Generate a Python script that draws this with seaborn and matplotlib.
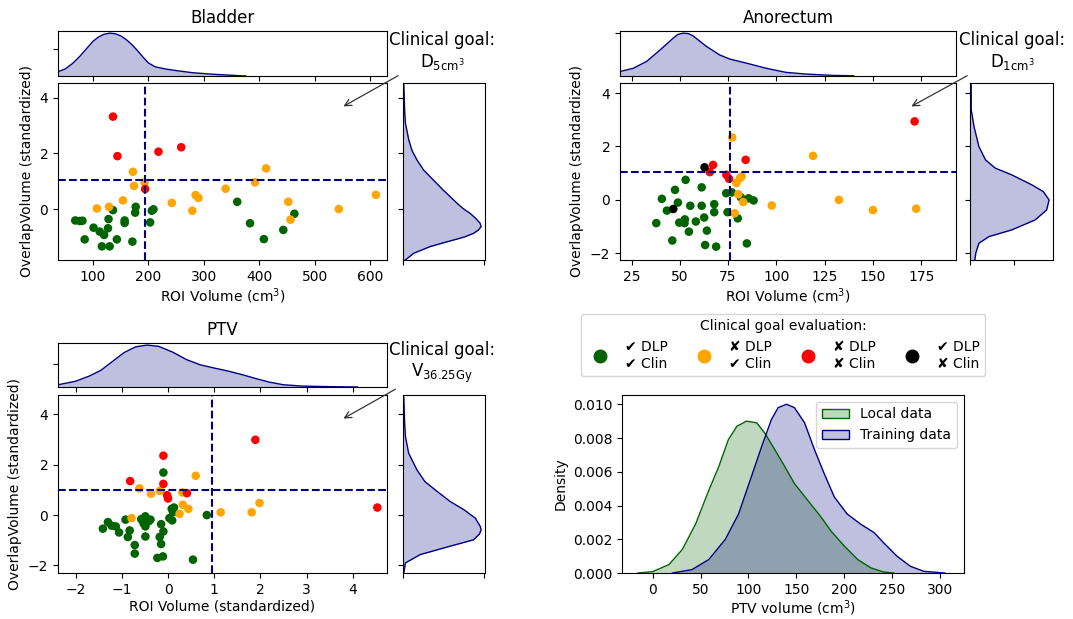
import numpy as np
import pandas as pd
import seaborn as sns
import matplotlib.pyplot as plt
from matplotlib.lines import Line2D
from matplotlib.patches import Patch

# clinical goal evaluation classes (DLP plan / clinical plan)
eval_names = ['pass', 'dlp_fail', 'both_fail', 'clin_fail']
eval_colors = ['darkgreen', 'orange', 'red', 'black']
eval_labels = ['\u2714 DLP\n\u2714 Clin', '\u2718 DLP\n\u2714 Clin',
               '\u2718 DLP\n\u2718 Clin', '\u2714 DLP\n\u2718 Clin']

# ---- Bladder ----
bladder_roi = [136, 68, 76, 81, 101, 112, 120, 127, 128, 85, 116, 130, 143, 157, 157, 171,
               176, 177, 203, 206, 209, 360, 383, 408, 443, 463,
               172, 174, 193, 154, 107, 129, 242, 279, 285, 290, 339, 392, 412, 452, 456, 543, 610,
               136, 144, 218, 259, 194]
bladder_overlap = [-0.04, -0.41, -0.43, -0.42, -0.67, -0.81, -0.93, -0.69, -0.36, -1.09, -1.34, -1.34,
                   -1.09, -0.41, -0.50, -1.17, -0.13, 0.08, -0.48, -0.06, -0.01, 0.26, -0.51, -1.08,
                   -0.75, -0.17,
                   1.34, 0.83, 0.95, 0.31, 0.02, 0.08, 0.22, -0.06, 0.50, 0.40, 0.73, 0.96, 1.46, 0.26,
                   -0.38, 0.0, 0.51,
                   3.32, 1.90, 2.06, 2.22, 0.72]
bladder_eval = ['pass'] * 26 + ['dlp_fail'] * 17 + ['both_fail'] * 5
bladder_cut = (193, 1.04)
bladder_xticks = [100, 200, 300, 400, 500, 600]
# training data marginal densities
bladder_kde_x = [37, 50, 63, 76, 88, 100, 110, 120, 130, 140, 150, 160, 170, 180, 190, 200, 212,
                 230, 250, 280, 320, 376]
bladder_kde_xd = [0.0008, 0.0013, 0.0023, 0.0036, 0.0050, 0.0064, 0.0072, 0.0077, 0.0079, 0.0078,
                  0.0074, 0.0067, 0.0058, 0.0047, 0.0035, 0.0024, 0.0017, 0.0013, 0.0010, 0.0006,
                  0.0003, 0.0]
bladder_kde_y = [4.46, 3.56, 3.08, 2.48, 2.1, 1.76, 1.40, 1.04, 0.68, 0.40, 0.20, 0.0, -0.16, -0.35,
                 -0.51, -0.63, -0.75, -0.87, -1.0, -1.11, -1.23, -1.35, -1.59, -1.83]
bladder_kde_yd = [0.005, 0.010, 0.015, 0.036, 0.056, 0.087, 0.128, 0.189, 0.250, 0.301, 0.337, 0.377,
                  0.418, 0.454, 0.479, 0.485, 0.469, 0.439, 0.383, 0.316, 0.240, 0.168, 0.066, 0.015]

# ---- Anorectum ----
anorectum_roi = [53, 47.5, 61.3, 40.7, 49, 43.3, 55.4, 61.3, 67.8, 67.8, 62.6, 58.3, 52.6, 49.7, 52.4,
                 37.8, 54.7, 64, 46.1, 63.1, 68.8, 84.7, 74.7, 80, 74, 76.9, 81.6, 85.6, 88.2,
                 77.1, 119, 81, 79.3, 82, 80.3, 82.8, 97.6, 132.4, 150, 172.4, 78.4,
                 171.6, 84.1, 67.2, 65.5, 74.1, 75.5,
                 62.8, 46.6]
anorectum_overlap = [0.75, 0.375, 0.47, 0.04, -0.1, -0.4, -0.22, -0.22, -0.16, -0.46, -0.66, -0.81,
                     -0.73, -0.85, -0.87, -0.87, -1.19, -1.15, -1.52, -1.69, -1.75, -1.63, -0.46,
                     -0.69, 0.25, 0.28, 0.1, 0.06, -0.02,
                     2.34, 1.65, 0.81, 0.63, 0.88, 0.21, -0.08, -0.21, 0.0, -0.38, -0.33, -0.5,
                     2.94, 1.50, 1.31, 1.04, 0.94, 0.79,
                     1.22, -0.34]
anorectum_eval = ['pass'] * 29 + ['dlp_fail'] * 12 + ['both_fail'] * 6 + ['clin_fail'] * 2
anorectum_cut = (75.9, 1.04)
anorectum_xticks = [25, 50, 75, 100, 125, 150, 175]
anorectum_kde_x = [19, 25.9, 32.8, 39.7, 46.6, 49, 51.7, 54.5, 56.9, 63.8, 70.7, 75.9, 84.5, 94.8,
                   105, 115.5, 129, 140]
anorectum_kde_xd = [0.0021, 0.0036, 0.0068, 0.0121, 0.0177, 0.0194, 0.0200, 0.0198, 0.0187, 0.0138,
                    0.0098, 0.0079, 0.0060, 0.0036, 0.0017, 0.0009, 0.0003, 0.0001]
anorectum_kde_y = [4.31, 3.38, 2.75, 2.0, 1.5, 1.19, 0.94, 0.56, 0.31, 0.0, -0.375, -0.75, -1.125,
                   -1.375, -1.625, -2.0, -2.25]
anorectum_kde_yd = [0.007, 0.007, 0.023, 0.051, 0.089, 0.145, 0.239, 0.356, 0.421, 0.454, 0.440,
                    0.374, 0.239, 0.108, 0.051, 0.033, 0.028]

# ---- PTV ----
ptv_roi = [-0.10, 0.84, 0.08, 0.11, 0.03, 0.09, -1.41, -1.30, -1.13, -1.06, -0.92, -0.83, -0.87,
           -0.72, -0.72, -0.49, -0.53, -0.38, -0.49, -0.15, -0.10, -0.18, -0.15, -0.23, -0.11, 0.54,
           -0.49, -0.58, -1.22, 0.13, -0.42,
           0.60, -0.62, -0.37, -0.18, 0.31, 0.32, 0.44, 0.25, -0.79, 1.14, 1.81, 1.98,
           1.89, -0.10, -0.82, -0.10, -0.02, 0.0, 0.41, 4.53]
ptv_overlap = [1.69, 0.0, 0.25, 0.12, -0.12, -0.21, -0.54, -0.28, -0.45, -0.69, -0.18, -0.61, -0.87,
               -1.19, -1.53, -0.05, -0.33, -0.18, -0.85, -0.36, -0.65, -0.87, -1.15, -1.70, -1.64,
               -1.77, -0.45, -0.16, -0.42, 0.3, -0.25,
               1.56, 1.06, 0.85, 0.96, 0.90, 0.41, 0.25, 0.05, -0.12, 0.11, 0.11, 0.48,
               2.99, 2.36, 1.35, 1.24, 0.79, 0.66, 0.87, 0.30]
ptv_eval = ['pass'] * 31 + ['dlp_fail'] * 12 + ['both_fail'] * 8
ptv_cut = (0.96, 1.0)
ptv_xticks = [-2, -1, 0, 1, 2, 3, 4]
ptv_kde_x = [-2.38, -2.0, -1.7, -1.45, -1.2, -0.95, -0.7, -0.45, -0.2, 0.1, 0.4, 0.7, 1.0, 1.3, 1.6,
             1.9, 2.2, 2.5, 2.9, 3.5, 4.1]
ptv_kde_xd = [0.019, 0.049, 0.094, 0.143, 0.219, 0.294, 0.343, 0.358, 0.347, 0.298, 0.234, 0.189,
              0.162, 0.136, 0.106, 0.072, 0.041, 0.019, 0.008, 0.003, 0.0]
ptv_kde_y = [4.68, 3.65, 3.12, 2.46, 1.80, 1.33, 0.94, 0.54, 0.21, -0.12, -0.45, -0.58, -0.75, -0.98,
             -1.27, -1.57, -1.90, -2.30]
ptv_kde_yd = [0.005, 0.010, 0.015, 0.035, 0.086, 0.136, 0.212, 0.293, 0.379, 0.449, 0.480, 0.485,
              0.475, 0.439, 0.273, 0.106, 0.015, 0.005]

# ---- PTV volume: local vs training ----
local_x = [-15.5, 0, 17, 31, 44.8, 58.6, 69, 79, 88, 98, 108.6, 117, 127.6, 138, 148, 162, 176, 186,
           200, 214, 228, 241, 252]
local_d = [0, 0.00008, 0.0005, 0.0014, 0.0029, 0.0049, 0.0063, 0.0079, 0.0087, 0.0090, 0.0089,
           0.0083, 0.0073, 0.0063, 0.0053, 0.0043, 0.0033, 0.0025, 0.0016, 0.0008, 0.0003, 0.00006, 0]
train_x = [20.7, 41, 58.6, 75.9, 89.7, 103, 113.8, 124, 131, 139.7, 148, 158.6, 169, 179, 189.7, 203,
           217, 231, 241, 255, 269, 283, 305]
train_d = [0, 0.0002, 0.0008, 0.002, 0.0035, 0.0057, 0.0075, 0.0091, 0.0098, 0.0100, 0.0098, 0.0089,
           0.0073, 0.0059, 0.0045, 0.0035, 0.0029, 0.0024, 0.0018, 0.0010, 0.0004, 0.0001, 0]

palette = dict(zip(eval_names, eval_colors))


def joint_panel(fig, main_rect, top_rect, right_rect, roi, overlap, evals, cut, xticks,
                kx, kxd, ky, kyd, xlim, ylim, xtick_top, xtick_right, title, goal, xlabel):
    ax = fig.add_axes(main_rect)
    ax_top = fig.add_axes(top_rect, sharex=ax)
    ax_right = fig.add_axes(right_rect, sharey=ax)

    df = pd.DataFrame({'roi': roi, 'overlap': overlap, 'eval': evals})
    sns.scatterplot(data=df, x='roi', y='overlap', hue='eval', palette=palette, s=38,
                    linewidth=0, legend=False, ax=ax)
    ax.axvline(cut[0], color='navy', ls='--', lw=1.5)
    ax.axhline(cut[1], color='navy', ls='--', lw=1.5)
    ax.set_xlim(xlim)
    ax.set_ylim(ylim)
    ax.set_xticks(xticks)
    ax.set_xlabel(xlabel, labelpad=2)
    ax.set_ylabel('OverlapVolume (standardized)')

    ax_top.fill_between(kx, kxd, color='navy', alpha=0.25, lw=0)
    ax_top.plot(kx, kxd, color='navy', lw=1)
    ax_top.set_ylim(0, max(kxd) * 1.05)
    ax_top.set_yticks([xtick_top])
    ax_top.tick_params(labelbottom=False, labelleft=False)
    ax_top.set_title(title, fontsize=12)

    ax_right.fill_betweenx(ky, kyd, color='navy', alpha=0.25, lw=0)
    ax_right.plot(kyd, ky, color='navy', lw=1)
    ax_right.set_xlim(0, max(kyd) * 1.05)
    ax_right.set_xticks([0, xtick_right])
    ax_right.tick_params(labelbottom=False, labelleft=False)

    ax.annotate(goal, xy=(0.86, 0.86), xycoords='axes fraction',
                xytext=(1.167, 1.18), textcoords='axes fraction',
                ha='center', va='center', fontsize=12, annotation_clip=False,
                arrowprops=dict(arrowstyle='->', color='#333333', lw=0.9))
    return ax


fig = plt.figure(figsize=(10.73, 6.19), dpi=100)

joint_panel(fig, [0.0541, 0.58, 0.3066, 0.286], [0.0541, 0.8772, 0.3066, 0.0727],
            [0.3756, 0.58, 0.0764, 0.286],
            bladder_roi, bladder_overlap, bladder_eval, bladder_cut, bladder_xticks,
            bladder_kde_x, bladder_kde_xd, bladder_kde_y, bladder_kde_yd,
            (37, 630), (-1.83, 4.53), 0.005, 0.5, 'Bladder',
            'Clinical goal:\nD$_{\\mathrm{5cm^3}}$', 'ROI Volume (cm$^3$)')

joint_panel(fig, [0.5778, 0.58, 0.3131, 0.286], [0.5778, 0.8772, 0.3131, 0.0727],
            [0.904, 0.58, 0.0774, 0.286],
            anorectum_roi, anorectum_overlap, anorectum_eval, anorectum_cut, anorectum_xticks,
            anorectum_kde_x, anorectum_kde_xd, anorectum_kde_y, anorectum_kde_yd,
            (19, 193), (-2.25, 4.38), 0.02, 0.25, 'Anorectum',
            'Clinical goal:\nD$_{\\mathrm{1cm^3}}$', 'ROI Volume (cm$^3$)')

joint_panel(fig, [0.0541, 0.0743, 0.3066, 0.2876], [0.0541, 0.3748, 0.3066, 0.0711],
            [0.3756, 0.0743, 0.0764, 0.2876],
            ptv_roi, ptv_overlap, ptv_eval, ptv_cut, ptv_xticks,
            ptv_kde_x, ptv_kde_xd, ptv_kde_y, ptv_kde_yd,
            (-2.38, 4.74), (-2.30, 4.77), 0.2, 0.5, 'PTV',
            'Clinical goal:\nV$_{\\mathrm{36.25Gy}}$', 'ROI Volume (standardized)')

# PTV volume distributions
ax_d = fig.add_axes([0.5797, 0.0743, 0.3187, 0.2876])
ax_d.fill_between(local_x, local_d, color='darkgreen', alpha=0.25, lw=0)
ax_d.plot(local_x, local_d, color='darkgreen', lw=1)
ax_d.fill_between(train_x, train_d, color='navy', alpha=0.25, lw=0)
ax_d.plot(train_x, train_d, color='navy', lw=1)
ax_d.set_xlim(-32, 325)
ax_d.set_ylim(0, 0.01055)
ax_d.set_xticks(np.arange(0, 301, 50))
ax_d.set_yticks(np.arange(0, 0.0101, 0.002))
ax_d.set_xlabel('PTV volume (cm$^3$)', labelpad=1)
ax_d.set_ylabel('Density')
ax_d.legend(handles=[Patch(facecolor=(0, 0.39, 0, 0.25), edgecolor='darkgreen', label='Local data'),
                     Patch(facecolor=(0, 0, 0.5, 0.25), edgecolor='navy', label='Training data')],
            loc='upper right')

handles = [Line2D([], [], marker='o', ls='', color=c, markersize=9) for c in eval_colors]
fig.legend(handles, eval_labels, title='Clinical goal evaluation:', ncol=4,
           loc='center', bbox_to_anchor=(0.7297, 0.4426), columnspacing=1.6)

fig.savefig('out.png', dpi=100)
